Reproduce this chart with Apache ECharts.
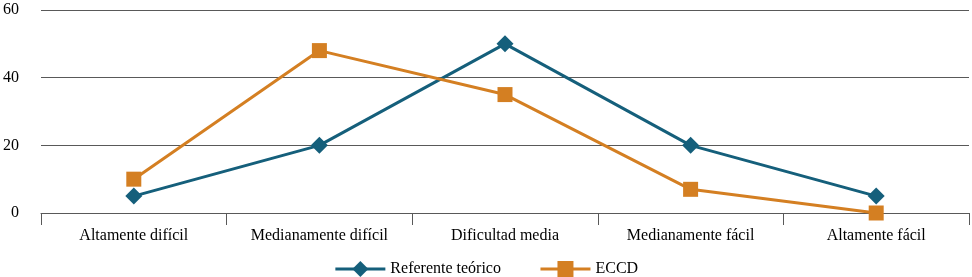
<!DOCTYPE html>
<html>
<head>
<meta charset="utf-8">
<script src="https://cdn.jsdelivr.net/npm/echarts@6/dist/echarts.min.js"></script>
<style>
  html, body { margin: 0; padding: 0; background: #fff; }
  #chart { width: 972px; height: 277px; }
</style>
</head>
<body>
<div id="chart"></div>
<script>
var categorias = ['Altamente difícil', 'Medianamente difícil', 'Dificultad media', 'Medianamente fácil', 'Altamente fácil'];
var referente = [5, 20, 50, 20, 5];
var eccd = [10, 48, 35, 7, 0];
var yTicks = [0, 20, 40, 60];

var chart = echarts.init(document.getElementById('chart'));
var fuente = '"Liberation Serif", "DejaVu Serif", serif';
var gris = '#595959';

var option = {
    animation: false,
    textStyle: { fontFamily: fuente },
    grid: { left: 41, right: 3, top: 10, bottom: 64 },
    legend: {
        top: 256,
        left: 'center',
        itemWidth: 50,
        itemHeight: 20,
        itemGap: 38,
        lineStyle: { width: 3 },
        textStyle: { fontFamily: fuente, fontSize: 16, color: '#000' },
        data: ['Referente teórico', 'ECCD']
    },
    xAxis: {
        type: 'category',
        data: categorias,
        boundaryGap: true,
        axisLine: { lineStyle: { color: gris, width: 1 } },
        axisTick: { show: true, length: 12, lineStyle: { color: gris } },
        axisLabel: { color: '#000', fontSize: 16, fontFamily: fuente, margin: 15 }
    },
    yAxis: {
        type: 'value',
        min: yTicks[0],
        max: yTicks[yTicks.length - 1],
        interval: 20,
        axisLine: { show: false },
        axisTick: { show: false },
        splitLine: { lineStyle: { color: gris, width: 1 } },
        axisLabel: { color: '#000', fontSize: 16, fontFamily: fuente, margin: 22 }
    },
    series: [
        {
            name: 'Referente teórico',
            type: 'line',
            data: referente,
            symbol: 'diamond',
            symbolSize: 17,
            color: '#155f7b',
            lineStyle: { width: 3, color: '#155f7b' },
            itemStyle: { color: '#155f7b' }
        },
        {
            name: 'ECCD',
            type: 'line',
            data: eccd,
            symbol: 'rect',
            symbolSize: 15,
            color: '#d47f22',
            lineStyle: { width: 3, color: '#d47f22' },
            itemStyle: { color: '#d47f22' }
        }
    ]
};
chart.setOption(option);
</script>
</body>
</html>
